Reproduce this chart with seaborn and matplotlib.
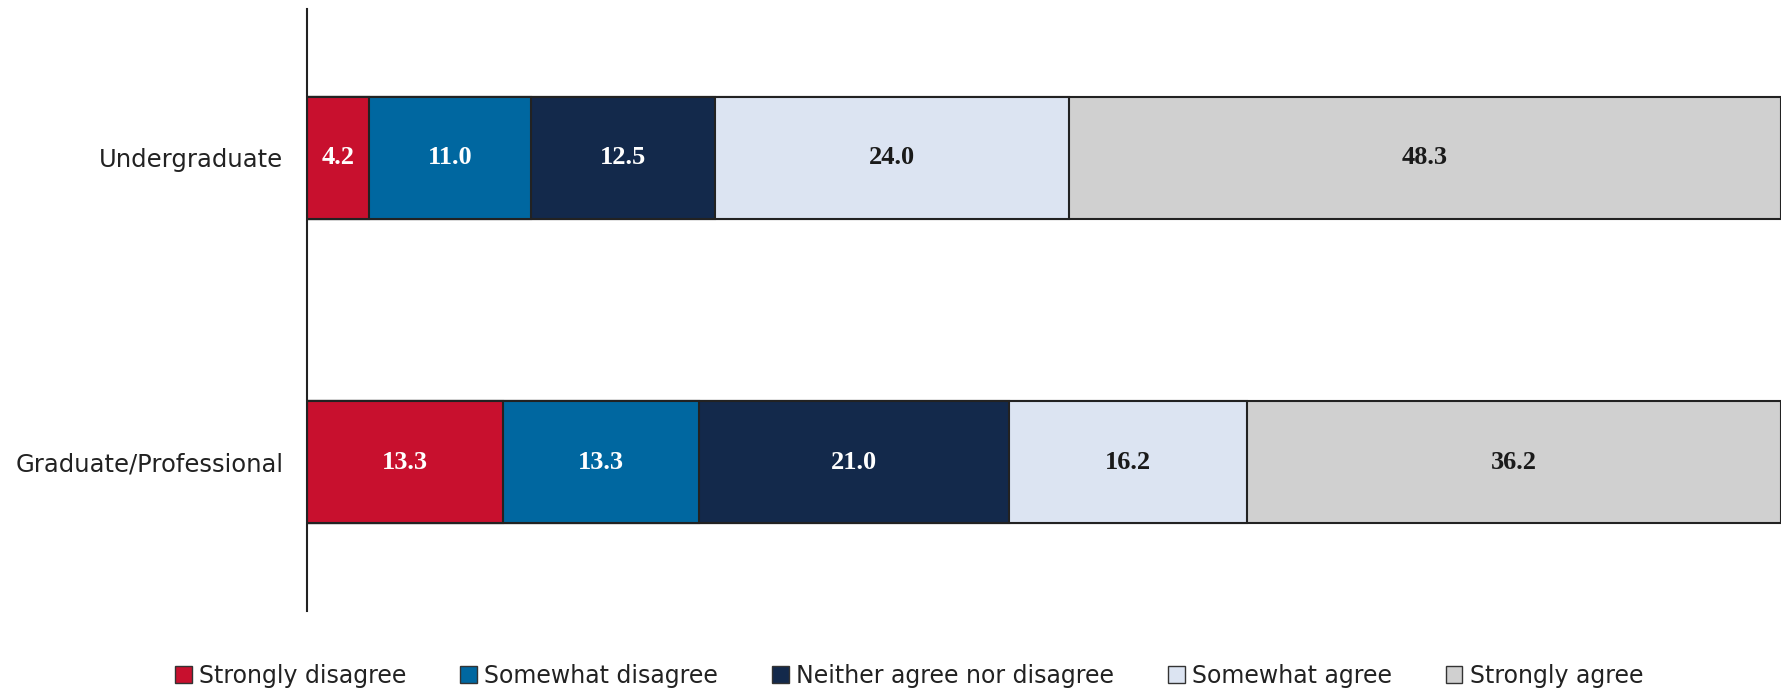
import numpy as np
import pandas as pd
import matplotlib
matplotlib.use("Agg")
import matplotlib.pyplot as plt
import seaborn as sns
from matplotlib.patches import Patch

categories = ["Undergraduate", "Graduate/Professional"]
responses = ["Strongly disagree", "Somewhat disagree", "Neither agree nor disagree",
             "Somewhat agree", "Strongly agree"]
strongly_disagree = [4.2, 13.3]
somewhat_disagree = [11.0, 13.3]
neither = [12.5, 21.0]
somewhat_agree = [24.0, 16.2]
strongly_agree = [48.3, 36.2]

colors = ["#C8102E", "#0067A0", "#13294B", "#DCE4F2", "#D0D0D0"]
text_colors = ["white", "white", "white", "#1a1a1a", "#1a1a1a"]

series = [strongly_disagree, somewhat_disagree, neither, somewhat_agree, strongly_agree]
vals = np.array(series)              # shape (5, 2)
cum = np.cumsum(vals, axis=0)

sns.set_theme(style="white")
plt.rcParams['font.family'] = ['DejaVu Sans']

fig = plt.figure(figsize=(17.91, 6.89), dpi=100)
ax = fig.add_axes([307/1791, 1 - 611/689, (1781-307)/1791, (611-9)/689])

# layered cumulative bars (largest first) produce a stacked bar look
for i in range(len(responses) - 1, -1, -1):
    df = pd.DataFrame({"cat": categories, "val": cum[i]})
    sns.barplot(data=df, y="cat", x="val", orient="h", color=colors[i],
                edgecolor="#222222", linewidth=1.5, width=0.40, ax=ax,
                saturation=1, order=categories)

for i in range(len(responses)):
    for j in range(len(categories)):
        ax.text(cum[i, j] - vals[i, j] / 2, j, f"{vals[i, j]:.1f}",
                ha="center", va="center", fontsize=19, fontweight="bold",
                color=text_colors[i], family="Liberation Serif")

ax.set_xlim(0, 100)
ax.set_ylim(1.49, -0.49)
ax.set_xlabel("")
ax.set_ylabel("")
ax.set_xticks([])
for s in ["top", "right", "bottom"]:
    ax.spines[s].set_visible(False)
ax.spines["left"].set_color("#222222")
ax.spines["left"].set_linewidth(1.5)
ax.tick_params(axis="y", length=0, pad=17, labelsize=17.5, labelcolor="#222222")

handles = [Patch(facecolor=c, edgecolor="#333333", linewidth=1) for c in colors]
fig.legend(handles, responses, loc="center", bbox_to_anchor=(909/1791, 1 - 676/689),
           ncol=5, frameon=False, fontsize=17, handlelength=0.7, handleheight=0.7,
           handletextpad=0.3, columnspacing=2.3, labelcolor="#222222")

fig.savefig("out.png", dpi=100)
